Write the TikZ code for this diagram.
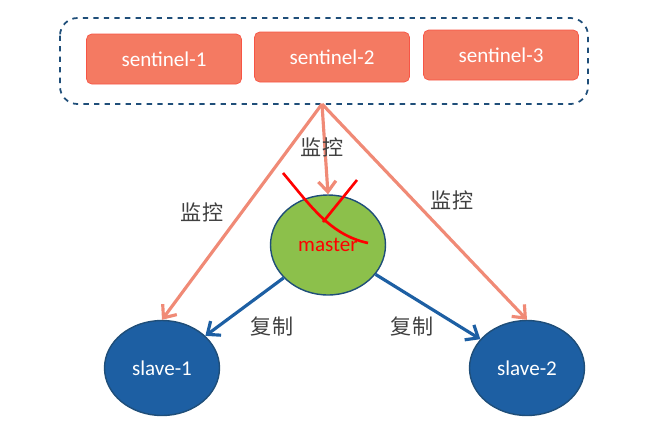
\documentclass[tikz,border=0pt]{standalone}
\usepackage{fontspec}
\setmainfont{Carlito}
\newfontfamily\cjk{Noto Sans CJK SC}
\usetikzlibrary{arrows.meta,shapes.geometric}
\definecolor{salmon}{HTML}{F47A62}
\definecolor{salmonline}{HTML}{F08A76}
\definecolor{mgreen}{HTML}{8CC04B}
\definecolor{sblue}{HTML}{1D5FA3}
\definecolor{dblue}{HTML}{1F4E79}
\tikzset{
  sent/.style={draw=salmon!70!red, fill=salmon, rounded corners=3pt, text=white, minimum width=3.1cm, minimum height=1cm, font=\large},
  mon/.style={draw=salmonline, line width=1.8pt, -{Straight Barb[length=6pt,width=10pt]}},
  rep/.style={draw=sblue, line width=1.8pt, -{Straight Barb[length=6pt,width=10pt]}},
  lbl/.style={font=\cjk\large, text=black!75}
}
\begin{document}
\begin{tikzpicture}[x=0.02cm,y=-0.02cm]
\useasboundingbox (0,0) rectangle (660,427);
\draw[dblue, dashed, line width=1pt, rounded corners=10pt] (60,18) rectangle (588,104);
\node[sent] (s_1) at (164,59) {sentinel-1};
\node[sent] (s_2) at (332,57) {sentinel-2};
\node[sent] (s_3) at (501,55) {sentinel-3};
\coordinate (top) at (322,104);

\node[draw=dblue, thick, fill=mgreen, ellipse, minimum width=2.3cm, minimum height=2cm, text=red, font=\large] (master) at (328,245) {master};
\node[draw=dblue, thick, fill=sblue, ellipse, minimum width=2.3cm, minimum height=1.9cm, text=white, font=\large] (slave_1) at (162,368) {slave-1};
\node[draw=dblue, thick, fill=sblue, ellipse, minimum width=2.3cm, minimum height=1.9cm, text=white, font=\large] (slave_2) at (527,368) {slave-2};

\draw[mon] (top) -- (master.north);
\draw[mon] (top) -- (slave_1.north);
\draw[mon] (top) -- (slave_2.north);
\draw[rep] (master) -- (slave_1);
\draw[rep] (master) -- (slave_2);

\node[lbl] (l_1) at (322,147) {监控};
\node[lbl] (l_2) at (202,212) {监控};
\node[lbl] (l_3) at (452,200) {监控};
\node[lbl] (l_4) at (272,326) {复制};
\node[lbl] (l_5) at (412,326) {复制};

% scribble
\draw[red, line width=1.5pt] (283,173) .. controls (310,205) and (330,235) .. (368,243);
\draw[red, line width=1.5pt] (357,180) -- (323,222);
\end{tikzpicture}
\end{document}
